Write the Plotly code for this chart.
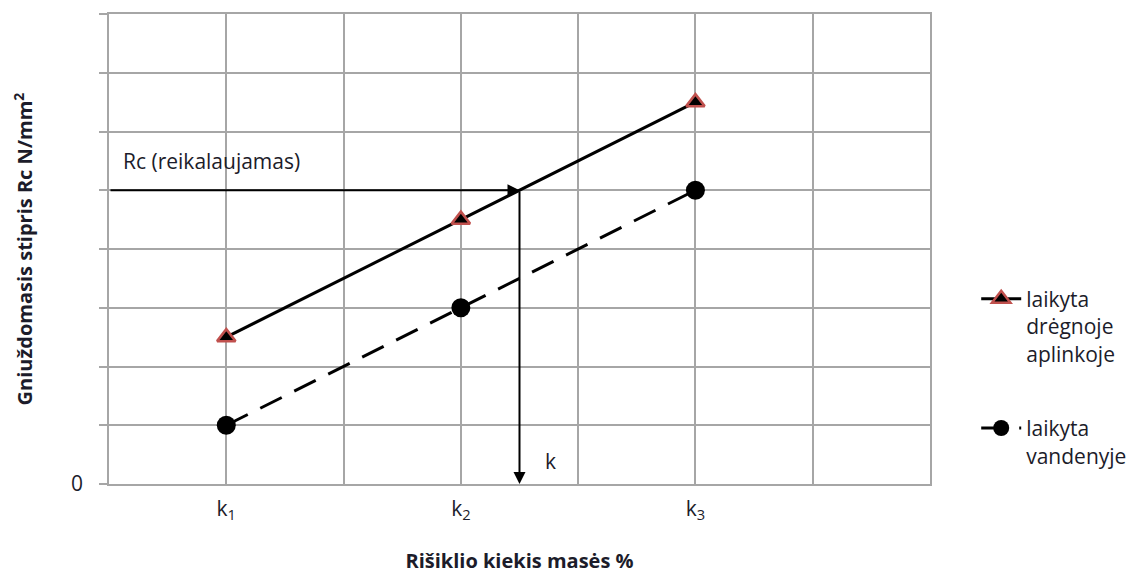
import plotly.graph_objects as go

# ---- data ----
x_positions = [1, 3, 5]
category_labels = ["k<sub>1</sub>", "k<sub>2</sub>", "k<sub>3</sub>"]
humid_values = [2.5, 4.5, 6.5]      # laikyta drėgnoje aplinkoje
water_values = [1, 3, 5]            # laikyta vandenyje
rc_required = 5                     # Rc (reikalaujamas)
k_required = 3.5                    # k
x_range = [0, 7]
y_range = [0, 8]
series_names = ["laikyta<br>drėgnoje<br>aplinkoje", "laikyta<br>vandenyje"]

FONT = "Open Sans"
TXT = "#1c1c2a"
GRID = "#a6a6a6"
FS = 20
FS_REG = 21

fig = go.Figure()

fig.add_trace(go.Scatter(
    x=x_positions, y=water_values, name=series_names[1],
    mode="lines+markers",
    line=dict(color="black", width=3, dash="24px,14px"),
    marker=dict(symbol="circle", size=19, color="black"),
    legend="legend2",
))
fig.add_trace(go.Scatter(
    x=x_positions, y=humid_values, name=series_names[0],
    mode="lines+markers",
    line=dict(color="black", width=3),
    marker=dict(symbol="triangle-up", size=16, color="black",
                line=dict(color="#c0504d", width=2.5)),
    legend="legend",
))

# required strength arrow -> and down to k
fig.add_annotation(x=k_required, y=rc_required, ax=x_range[0], ay=rc_required,
                   xref="x", yref="y", axref="x", ayref="y", text="",
                   showarrow=True, arrowhead=2, arrowsize=1.2, arrowwidth=2,
                   arrowcolor="black")
fig.add_annotation(x=k_required, y=y_range[0], ax=k_required, ay=rc_required,
                   xref="x", yref="y", axref="x", ayref="y", text="",
                   showarrow=True, arrowhead=2, arrowsize=1.2, arrowwidth=2,
                   arrowcolor="black")
fig.add_annotation(x=0.1, y=rc_required + 0.5, xref="x", yref="y",
                   text="Rc (reikalaujamas)", showarrow=False,
                   xanchor="left", yanchor="middle",
                   font=dict(family=FONT, size=FS_REG, color=TXT))
fig.add_annotation(x=k_required + 0.2, y=0.4, xref="x", yref="y",
                   text="k", showarrow=False,
                   xanchor="left", yanchor="middle",
                   font=dict(family=FONT, size=FS_REG, color=TXT))

axis_common = dict(showgrid=True, gridcolor=GRID, gridwidth=1.5,
                   showline=True, linecolor=GRID, linewidth=1.5, mirror=True,
                   zeroline=False, automargin=False,
                   tickfont=dict(family=FONT, size=FS_REG, color=TXT))

fig.update_xaxes(range=x_range, tickmode="array", tickvals=x_positions, ticktext=category_labels,
                 ticks="", ticklabelstandoff=5,
                 minor=dict(tickmode="linear", tick0=0, dtick=1, showgrid=True,
                            gridcolor=GRID, gridwidth=1.5, ticks=""),
                 title=dict(text="<b>Rišiklio kiekis masės %</b>", standoff=31,
                            font=dict(family=FONT, size=FS, color=TXT)),
                 **axis_common)
fig.update_yaxes(range=y_range, tickmode="array", tickvals=[0], ticktext=["0"],
                 ticks="outside", ticklen=8, tickcolor=GRID, tickwidth=1.5,
                 ticklabelstandoff=12,
                 minor=dict(tickmode="linear", tick0=0, dtick=1, showgrid=True,
                            gridcolor=GRID, gridwidth=1.5, ticks="outside",
                            ticklen=8, tickcolor=GRID, tickwidth=1.5),
                 title=dict(text="<b>Gniuždomasis stipris Rc N/mm<sup>2</sup></b>", standoff=33,
                            font=dict(family=FONT, size=FS, color=TXT)),
                 **axis_common)

legend_common = dict(xanchor="left", yanchor="top", valign="top",
                     bgcolor="rgba(0,0,0,0)", itemwidth=40,
                     font=dict(family=FONT, size=FS_REG, color=TXT))
fig.update_layout(
    width=1129, height=566,
    margin=dict(l=101, r=206, t=6, b=90),
    paper_bgcolor="white", plot_bgcolor="white",
    showlegend=True,
    legend=dict(x=1.055, y=0.437, **legend_common),
    legend2=dict(x=1.055, y=0.162, **legend_common),
)

fig.write_html("out.html")
